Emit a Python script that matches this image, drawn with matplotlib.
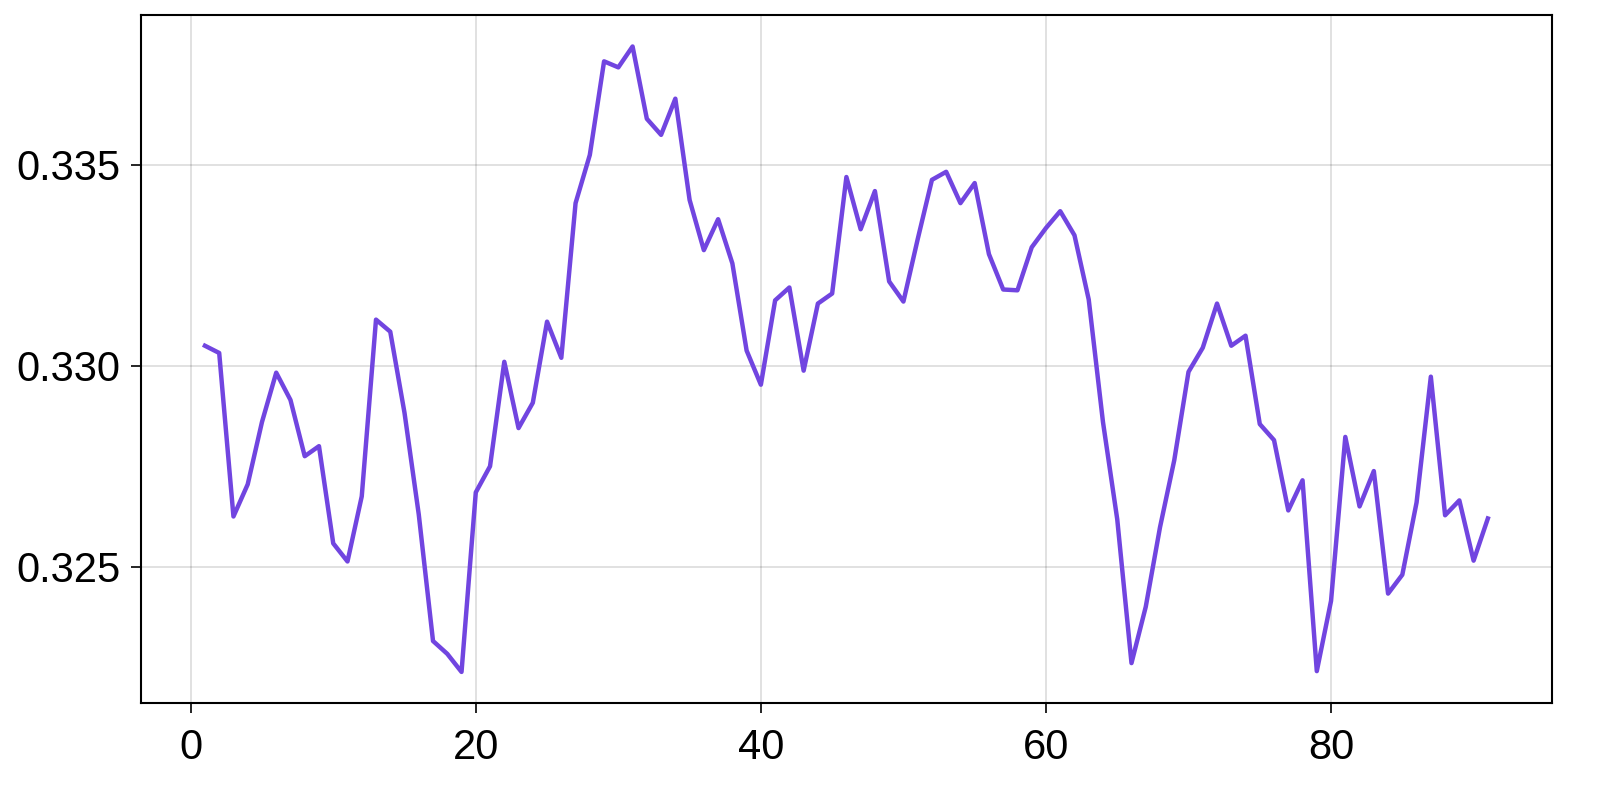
import numpy as np
import matplotlib.pyplot as plt

# 数据
x = np.arange(1, 92)
y = [0.3305, 0.33032, 0.32625, 0.32705, 0.3286, 0.32983, 0.32915, 0.32775, 0.328, 0.32558,
     0.32513, 0.32675, 0.33115, 0.33085, 0.32883, 0.3263, 0.32315, 0.32283, 0.32238, 0.32685,
     0.3275, 0.3301, 0.32845, 0.32908, 0.3311, 0.3302, 0.33405, 0.33525, 0.33758, 0.33743,
     0.33795, 0.33615, 0.33575, 0.33665, 0.33413, 0.33288, 0.33365, 0.33255, 0.33038, 0.32953,
     0.33163, 0.33195, 0.32988, 0.33155, 0.3318, 0.3347, 0.3334, 0.33435, 0.3321, 0.3316,
     0.33315, 0.33463, 0.33483, 0.33405, 0.33455, 0.33278, 0.3319, 0.33188, 0.33295, 0.33343,
     0.33385, 0.33325, 0.33165, 0.3286, 0.32618, 0.3226, 0.324, 0.32598, 0.32765, 0.32985,
     0.33045, 0.33155, 0.3305, 0.33075, 0.32855, 0.32815, 0.3264, 0.32715, 0.3224, 0.32415,
     0.32823, 0.3265, 0.32738, 0.32433, 0.3248, 0.3266, 0.32973, 0.32628, 0.32665, 0.32515,
     0.3262]
xticks = [0, 20, 40, 60, 80]
yticks = [0.325, 0.330, 0.335]

plt.rcParams['font.family'] = ['Liberation Sans', 'DejaVu Sans']

fig = plt.figure(figsize=(16, 8), dpi=100)
ax = fig.add_axes([0.088, 0.121, 0.882, 0.86])

ax.plot(x, y, color='#7145e0', linewidth=3.2)

ax.set_xticks(xticks)
ax.set_yticks(yticks)
ax.set_yticklabels(['0.325', '0.330', '0.335'])
ax.grid(True, color='black', alpha=0.12, linewidth=1.4)
ax.set_axisbelow(True)
ax.tick_params(labelsize=30, length=7.5, width=1.2, direction='out', pad=7)
ax.tick_params(axis='x', pad=10)
for s in ax.spines.values():
    s.set_linewidth(1.5)

fig.savefig('out.png', dpi=100)
